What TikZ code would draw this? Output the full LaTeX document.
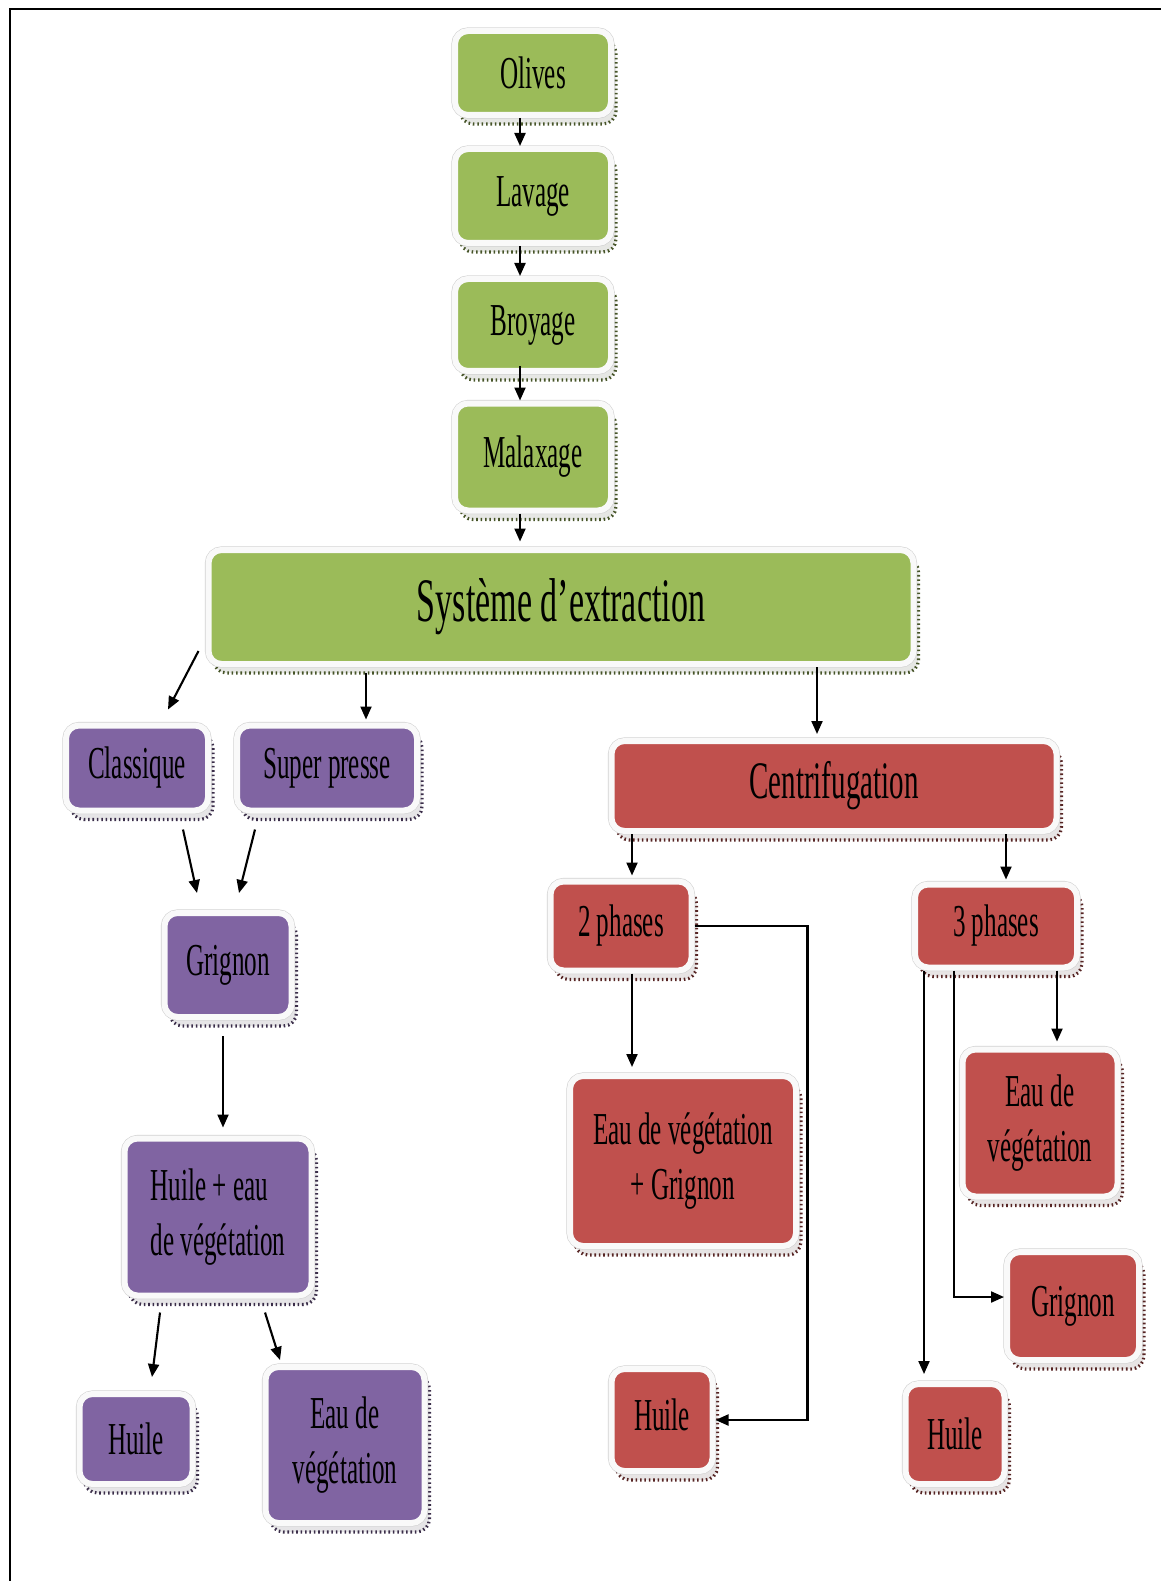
\documentclass[tikz,border=0pt]{standalone}
\usepackage{fontspec}
\setmainfont{Liberation Serif}[FakeStretch=0.55]
\usetikzlibrary{arrows.meta,calc}

\definecolor{leafgreen}{HTML}{9BBB59}
\definecolor{plum}{HTML}{8064A2}
\definecolor{brick}{HTML}{C0504D}

\tikzset{
  box/.style={rounded corners=1.3mm, draw=gray!5, line width=0.6mm, fill=#1,
    inner sep=0pt, align=center, font=\fontsize{13}{15.6}\selectfont,
    preaction={fill=#1!15!gray!20, draw=#1!45!black, line width=0.9pt,
      dash pattern=on 0.45pt off 0.8pt,
      transform canvas={shift={(0.5mm,-0.9mm)}}},
    preaction={draw=gray!35, line width=0.72mm}},
  arr/.style={-{Triangle[length=1.3mm,width=1.1mm]}, line width=0.6pt},
}

\begin{document}
\begin{tikzpicture}[x=0.1mm, y=-0.1mm]
  \useasboundingbox (0,0) rectangle (1161,1581);
  \draw[line width=0.25mm] (10,1581) -- (10,9) -- (1161,9);

  % tronc commun
  \node[box=leafgreen, minimum width=15.6mm, minimum height=8.4mm] (olives) at (533,73) {Olives};
  \node[box=leafgreen, minimum width=15.6mm, minimum height=9.4mm] (lavage) at (533,196) {Lavage};
  \node[box=leafgreen, minimum width=15.6mm, minimum height=9.2mm] (broyage) at (533,325) {Broyage};
  \node[box=leafgreen, minimum width=15.6mm, minimum height=10.7mm] (malaxage) at (533,457) {Malaxage};
  \node[box=leafgreen, minimum width=70.5mm, minimum height=11.4mm,
        font=\fontsize{17.6}{21}\selectfont] (sys) at (561,607) {Système d’extraction};

  % classique et super presse
  \node[box=plum, minimum width=14.2mm, minimum height=8.5mm] (classique) at (137,768) {Classique};
  \node[box=plum, minimum width=18mm, minimum height=8.5mm] (superpresse) at (327,768) {Super presse};
  \node[box=plum, minimum width=12.7mm, minimum height=10.4mm] (grignonA) at (228,965) {Grignon};
  \node[box=plum, minimum width=18.7mm, minimum height=15.7mm, align=left] (melange) at (218,1217) {Huile + eau\\de végétation};
  \node[box=plum, minimum width=11.3mm, minimum height=9mm] (huileA) at (136,1439) {Huile};
  \node[box=plum, minimum width=15.9mm, minimum height=15.6mm] (eauA) at (345,1445) {Eau de\\végétation};

  % centrifugation
  \node[box=brick, minimum width=44.5mm, minimum height=9mm,
        font=\fontsize{15}{18}\selectfont] (centri) at (834,786) {Centrifugation};
  \node[box=brick, minimum width=14.1mm, minimum height=8.9mm] (deuxph) at (621,926) {2 phases};
  \node[box=brick, minimum width=16.2mm, minimum height=8.3mm] (troisph) at (996,926) {3 phases};
  \node[box=brick, minimum width=22.6mm, minimum height=17mm] (eaugrig) at (683,1161) {Eau de végétation\\+ Grignon};
  \node[box=brick, minimum width=10.1mm, minimum height=10.2mm] (huileB) at (662,1420) {\raisebox{1mm}{Huile}};
  \node[box=brick, minimum width=15.5mm, minimum height=14.7mm] (eauC) at (1040,1123) {Eau de\\végétation};
  \node[box=brick, minimum width=13.2mm, minimum height=10.8mm] (grignonC) at (1073,1306) {\raisebox{0.9mm}{Grignon}};
  \node[box=brick, minimum width=9.9mm, minimum height=10mm] (huileC) at (955,1434) {Huile};

  % fleches
  \draw[arr] ($(olives.south)+(-13,0)$) -- ($(lavage.north)+(-13,0)$);
  \draw[arr] ($(lavage.south)+(-13,0)$) -- ($(broyage.north)+(-13,0)$);
  \draw[arr] ($(broyage.south)+(-13,-8)$) -- ($(malaxage.north)+(-13,0)$);
  \draw[arr] ($(malaxage.south)+(-13,0)$) -- ($(malaxage.south)+(-13,28)$);

  \draw[arr] ($(sys.south west)+(-7,-16)$) -- ($(classique.north)+(31,-13)$);
  \draw[arr] ($(sys.south)+(-195,6)$) -- ($(superpresse.north)+(39,-3)$);
  \draw[arr] ($(sys.south)+(256,0)$) -- ($(centri.north)+(-17,-4)$);

  \draw[arr] ($(classique.south)+(46,16)$) -- ($(grignonA.north)+(-31,-17)$);
  \draw[arr] ($(superpresse.south)+(-72,16)$) -- ($(grignonA.north)+(11,-17)$);
  \draw[arr] ($(grignonA.south)+(-5,16)$) -- ($(melange.north)+(5,-8)$);
  \draw[arr] ($(melange.south)+(-58,14)$) -- ($(huileA.north)+(16,-14)$);
  \draw[arr] ($(melange.south)+(47,14)$) -- ($(eauA.north)+(-65,-4)$);

  \draw[arr] ($(centri.south)+(-202,0)$) -- ($(deuxph.north)+(11,-3)$);
  \draw[arr] ($(centri.south)+(172,0)$) -- ($(troisph.north)+(10,-2)$);

  \draw[arr] (deuxph.east) -- ++(113,0) |- (huileB.east);
  \draw[arr] ($(deuxph.south)+(11,0)$) -- ($(eaugrig.north)+(-51,-6)$);

  \draw[arr] ($(troisph.south)+(-72,0)$) -- ($(huileC.north)+(-31,-7)$);
  \draw[arr] ($(troisph.south)+(-42,0)$) |- ($(grignonC.west)+(0,-9)$);
  \draw[arr] ($(troisph.south)+(61,0)$) -- ($(eauC.north)+(17,-5)$);
\end{tikzpicture}
\end{document}
